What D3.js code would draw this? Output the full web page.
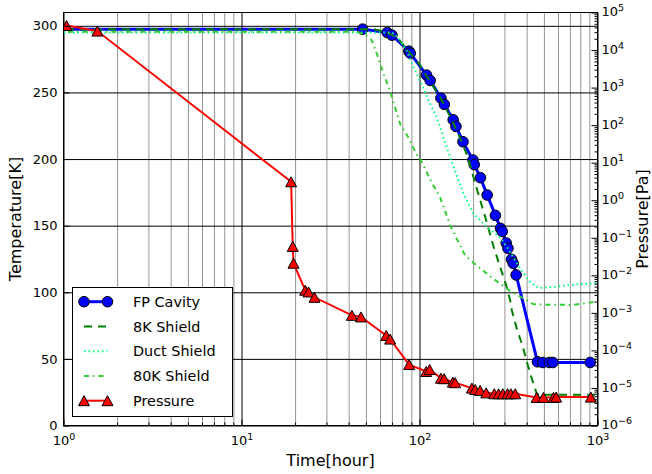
<!DOCTYPE html>
<html>
<head>
<meta charset="utf-8">
<script src="https://cdn.jsdelivr.net/npm/d3@7"></script>
<style>
  body { margin: 0; background: #fff; }
  svg { display: block; font-family: "DejaVu Sans", sans-serif; }
</style>
</head>
<body>
<script>
// ─── DATA ──────────────────────────────────────────────────────────────────
// [time in hours, temperature in K]
const fpCavity = [
  [0.5, 297.5], [47.9, 297.5], [65.9, 295], [70, 293], [87.2, 281], [88.7, 279.5],
  [109.5, 263], [114.8, 259], [131.9, 245.8], [138, 241], [154.6, 229.5], [160.2, 224.5],
  [175.5, 213], [199.7, 199.3], [203, 195.8], [220, 186], [240, 173], [267, 157.7],
  [285, 148], [291.6, 145.7], [307, 137], [314, 133], [329, 124.7], [336, 121.7],
  [349, 113], [460, 47.8], [493, 47.3], [537, 47.3], [561, 47.3], [910, 47.3]
];
const shield8K = [
  [0.5, 297.5], [55, 297.5], [65, 295.5], [75, 291], [88, 280], [100, 271], [110, 262],
  [130, 247], [150, 231], [170, 215], [187, 201.5], [205.6, 181.6], [234, 156.5],
  [261, 134], [284, 119], [307, 105], [323, 94], [330, 86.5], [352, 72.7], [381, 58.9],
  [409, 43.8], [434, 32.5], [457, 23.3], [520, 23], [1000, 23]
];
const ductShield = [
  [0.5, 295], [70, 295], [76, 291], [85, 281], [92.5, 269], [103, 256], [112.4, 244],
  [125.3, 231], [136.5, 216], [149, 201], [158.6, 191], [176.6, 174], [201, 159],
  [239, 149], [284, 141], [310, 134], [337, 126], [376, 116], [419, 107.5], [467, 103.3],
  [566, 104], [733, 105.7], [1000, 107]
];
const shield80K = [
  [0.5, 295.5], [45, 295.5], [50, 293], [54, 289], [57.6, 279], [62, 266], [68.4, 251],
  [78, 226], [86.8, 216], [95.8, 204], [101, 200], [117, 182.5], [130.7, 171], [149, 150],
  [165.6, 137.5], [180.6, 127.5], [210, 120], [255, 111], [323, 101], [437, 91],
  [520, 90.7], [731, 90.5], [1000, 93]
];
// [time in hours, pressure in Pa]
const pressure = [
  [1.04, 4.5e4], [1.55, 3.2e4], [19.0, 3.1], [19.4, 0.059], [19.6, 0.021], [22.8, 0.0040],
  [23.8, 0.0036], [25.7, 0.0026], [41.7, 8.6e-4], [46.9, 7.8e-4], [65, 2.5e-4], [68.4, 2.0e-4],
  [87.5, 4.2e-5], [109, 2.75e-5], [114, 3.1e-5], [132, 1.82e-5], [137.6, 1.76e-5],
  [154, 1.43e-5], [158.6, 1.38e-5], [197, 9.9e-6], [205.5, 9.1e-6], [219, 8.6e-6],
  [237, 7.4e-6], [263, 7.0e-6], [278, 7.0e-6], [294, 7.0e-6], [312, 7.0e-6], [326, 7.0e-6],
  [345, 7.0e-6], [455, 5.6e-6], [497, 5.6e-6], [566, 5.6e-6], [586, 5.7e-6], [918, 5.7e-6]
];

const xMajor = [1, 10, 100, 1000];
const tempTicks = [0, 50, 100, 150, 200, 250, 300];
const presMajor = d3.range(-6, 6).map(e => Math.pow(10, e));

const legendItems = ["FP Cavity", "8K Shield", "Duct Shield", "80K Shield", "Pressure"];

// ─── LAYOUT ────────────────────────────────────────────────────────────────
const width = 652, height = 474;
const pL = 63.5, pR = 597.5, pT = 12.5, pB = 425.5;

const x  = d3.scaleLog().domain([1, 1000]).range([pL, pR]);
const yT = d3.scaleLinear().domain([0, 310]).range([pB, pT]);
const yP = d3.scaleLog().domain([1e-6, 1e5]).range([pB, pT]);

const minorOf = (lo, hi) => {
  const out = [];
  for (let d = lo; d < hi * 0.999; d *= 10)
    for (let k = 2; k <= 9; k++) out.push(d * k);
  return out;
};
const xMinor = minorOf(1, 1000);
const pMinor = minorOf(1e-6, 1e5);

const svg = d3.select("body").append("svg")
  .attr("width", width)
  .attr("height", height);

svg.append("defs").append("clipPath").attr("id", "plot")
  .append("rect")
    .attr("x", pL).attr("y", pT)
    .attr("width", pR - pL).attr("height", pB - pT);

// ─── GRID ──────────────────────────────────────────────────────────────────
function grid(axis, tx, ty, color) {
  const g = svg.append("g").attr("transform", `translate(${tx},${ty})`).call(axis);
  g.select(".domain").remove();
  g.selectAll("line").attr("stroke", color).attr("stroke-width", 1);
  g.selectAll("text").remove();
}
grid(d3.axisBottom(x).tickValues(xMinor).tickSize(-(pB - pT)).tickFormat(""), 0, pB, "#959595");
grid(d3.axisBottom(x).tickValues(xMajor).tickSize(-(pB - pT)).tickFormat(""), 0, pB, "#000");
grid(d3.axisLeft(yT).tickValues(tempTicks).tickSize(-(pR - pL)).tickFormat(""), pL, 0, "#000");

// ─── SERIES ────────────────────────────────────────────────────────────────
const plot = svg.append("g").attr("clip-path", "url(#plot)");
const lineT = d3.line().x(d => x(d[0])).y(d => yT(d[1]));
const lineP = d3.line().x(d => x(d[0])).y(d => yP(d[1]));

const tri = (hw, hh) => `M0,${-hh}L${hw},${hh}L${-hw},${hh}Z`;

plot.append("path").datum(fpCavity)
  .attr("d", lineT).attr("fill", "none").attr("stroke", "#0000ff").attr("stroke-width", 3);
plot.selectAll("circle.fp").data(fpCavity.slice(1)).join("circle")
  .attr("class", "fp")
  .attr("cx", d => x(d[0])).attr("cy", d => yT(d[1])).attr("r", 5.3)
  .attr("fill", "#0000ff").attr("stroke", "#000").attr("stroke-width", 1);

plot.append("path").datum(shield8K)
  .attr("d", lineT).attr("fill", "none").attr("stroke", "#008000")
  .attr("stroke-width", 2).attr("stroke-dasharray", "8,6");

plot.append("path").datum(ductShield)
  .attr("d", lineT).attr("fill", "none").attr("stroke", "#00ff7f")
  .attr("stroke-width", 2).attr("stroke-dasharray", "1.5,3");

plot.append("path").datum(shield80K)
  .attr("d", lineT).attr("fill", "none").attr("stroke", "#32cd32")
  .attr("stroke-width", 2).attr("stroke-dasharray", "5,4,1.5,4");

plot.append("path").datum(pressure)
  .attr("d", lineP).attr("fill", "none").attr("stroke", "#ff0000").attr("stroke-width", 2);
plot.selectAll("path.pr").data(pressure).join("path")
  .attr("class", "pr")
  .attr("transform", d => `translate(${x(d[0])},${yP(d[1])})`)
  .attr("d", tri(5.5, 5))
  .attr("fill", "#ff0000").attr("stroke", "#000").attr("stroke-width", 1);

// ─── AXES ──────────────────────────────────────────────────────────────────
function supLabels(g, base) {
  g.selectAll("text").each(function(d) {
    const e = Math.round(Math.log10(d));
    const t = d3.select(this).text("");
    t.append("tspan").text(base);
    t.append("tspan").attr("dy", -5).attr("font-size", 9.5)
      .text(e < 0 ? "\u2212" + (-e) : String(e));
  });
}
function styleAxis(g, size) {
  g.select(".domain").remove();
  g.selectAll("line").attr("stroke", "#000").attr("stroke-width", 1);
  g.selectAll("text").attr("font-size", size).attr("fill", "#000")
    .attr("font-family", "DejaVu Sans");
}

// x axis
svg.append("g").attr("transform", `translate(0,${pB})`)
  .call(d3.axisBottom(x).tickValues(xMinor).tickSize(-3).tickFormat(""))
  .call(g => styleAxis(g, 13));
svg.append("g").attr("transform", `translate(0,${pB})`)
  .call(d3.axisBottom(x).tickValues(xMajor).tickSize(-6).tickPadding(10))
  .call(g => styleAxis(g, 13))
  .call(g => supLabels(g, "10"));

// left axis (temperature)
svg.append("g").attr("transform", `translate(${pL},0)`)
  .call(d3.axisLeft(yT).tickValues(tempTicks).tickSize(-6).tickPadding(6))
  .call(g => styleAxis(g, 13));

// right axis (pressure)
svg.append("g").attr("transform", `translate(${pR},0)`)
  .call(d3.axisRight(yP).tickValues(pMinor).tickSize(-3).tickFormat(""))
  .call(g => styleAxis(g, 13));
svg.append("g").attr("transform", `translate(${pR},0)`)
  .call(d3.axisRight(yP).tickValues(presMajor).tickSize(-6).tickPadding(4))
  .call(g => styleAxis(g, 13))
  .call(g => supLabels(g, "10"))
  .call(g => g.selectAll("text").attr("dy", "0.25em"));

// frame
svg.append("rect")
  .attr("x", pL).attr("y", pT)
  .attr("width", pR - pL).attr("height", pB - pT)
  .attr("fill", "none").attr("stroke", "#000").attr("stroke-width", 1);

// axis titles
svg.append("text")
  .attr("x", (pL + pR) / 2).attr("y", 466)
  .attr("text-anchor", "middle").attr("font-size", 16)
  .text("Time[hour]");
svg.append("text")
  .attr("transform", `translate(21,${(pT + pB) / 2}) rotate(-90)`)
  .attr("text-anchor", "middle").attr("font-size", 16)
  .text("Temperature[K]");
svg.append("text")
  .attr("transform", `translate(648,${(pT + pB) / 2}) rotate(-90)`)
  .attr("text-anchor", "middle").attr("font-size", 16)
  .text("Pressure[Pa]");

// ─── LEGEND ────────────────────────────────────────────────────────────────
const leg = svg.append("g");
leg.append("rect")
  .attr("x", 72.5).attr("y", 287.5).attr("width", 160).attr("height", 129)
  .attr("fill", "#fff").attr("stroke", "#000").attr("stroke-width", 1);

const rowY = i => 301.7 + i * 24.75;
const hx0 = 84, hx1 = 107.5;
const styles = [
  { stroke: "#0000ff", w: 3, dash: null },
  { stroke: "#008000", w: 2, dash: "8,6" },
  { stroke: "#00ff7f", w: 2, dash: "1.5,3" },
  { stroke: "#32cd32", w: 2, dash: "5,4,1.5,4" },
  { stroke: "#ff0000", w: 2, dash: null }
];
legendItems.forEach((name, i) => {
  const y = rowY(i), s = styles[i];
  leg.append("line")
    .attr("x1", hx0).attr("x2", hx1).attr("y1", y).attr("y2", y)
    .attr("stroke", s.stroke).attr("stroke-width", s.w)
    .attr("stroke-dasharray", s.dash);
  if (i === 0) {
    [hx0, hx1].forEach(cx => leg.append("circle")
      .attr("cx", cx).attr("cy", y).attr("r", 5.3)
      .attr("fill", "#0000ff").attr("stroke", "#000"));
  }
  if (i === 4) {
    [hx0, hx1].forEach(cx => leg.append("path")
      .attr("transform", `translate(${cx},${y})`).attr("d", tri(5.5, 5))
      .attr("fill", "#ff0000").attr("stroke", "#000"));
  }
  leg.append("text")
    .attr("x", 133).attr("y", y + 5.2)
    .attr("font-size", 14.4)
    .text(name);
});
</script>
</body>
</html>
